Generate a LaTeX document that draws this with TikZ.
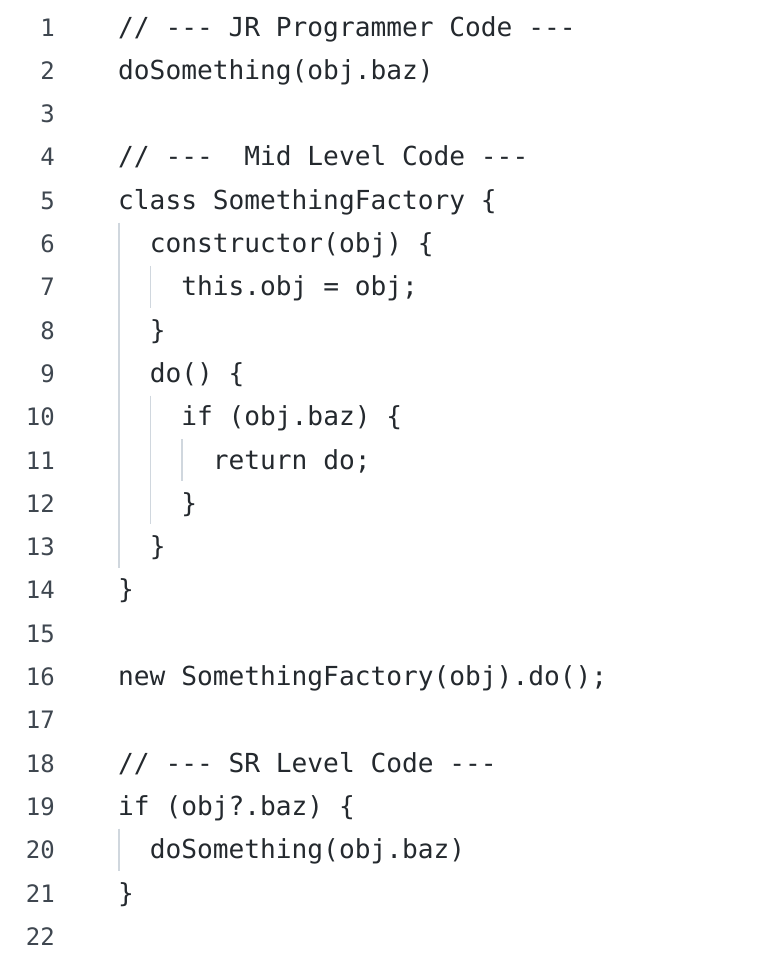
\documentclass[tikz,border=0pt]{standalone}
\usepackage{fontspec}
\setmonofont{DejaVu Sans Mono}
\definecolor{codec}{HTML}{24292E}
\definecolor{numc}{HTML}{3F4750}
\definecolor{guidec}{HTML}{D0D7DE}
\begin{document}
\begin{tikzpicture}[x=1pt,y=-1pt,
  code/.style={anchor=base west,inner sep=0pt,text=codec,font=\ttfamily\fontsize{26.2}{30}\selectfont},
  num/.style={anchor=base east,inner sep=0pt,text=numc,font=\ttfamily\fontsize{24}{28}\selectfont},
  guide/.style={guidec,line width=1.6pt}]
\useasboundingbox[fill=white] (0,0) rectangle (760,956);
\foreach \n in {1,...,22}{\node[num] (n\n) at (55,{27+(\n-1)*43.3+9}) {\n};}
\newcommand\cl[3]{\node[code] (c#1) at ({118+#2*31.55},{27+(#1-1)*43.3+9}) {#3};}
\cl{1}{0}{// --- JR Programmer Code ---}
\cl{2}{0}{doSomething(obj.baz)}
\cl{4}{0}{// ---\ \ Mid Level Code ---}
\cl{5}{0}{class SomethingFactory \{}
\cl{6}{1}{constructor(obj) \{}
\cl{7}{2}{this.obj = obj;}
\cl{8}{1}{\}}
\cl{9}{1}{do() \{}
\cl{10}{2}{if (obj.baz) \{}
\cl{11}{3}{return do;}
\cl{12}{2}{\}}
\cl{13}{1}{\}}
\cl{14}{0}{\}}
\cl{16}{0}{new SomethingFactory(obj).do();}
\cl{18}{0}{// --- SR Level Code ---}
\cl{19}{0}{if (obj?.baz) \{}
\cl{20}{1}{doSomething(obj.baz)}
\cl{21}{0}{\}}
\newcommand\gd[3]{\draw[guide] ({119+#1*31.55},{27+(#2-1)*43.3-21}) -- ({119+#1*31.55},{27+(#3-1)*43.3+21});}
\gd{0}{6}{13}
\gd{1}{7}{7}
\gd{1}{10}{12}
\gd{2}{11}{11}
\gd{0}{20}{20}
\end{tikzpicture}
\end{document}
